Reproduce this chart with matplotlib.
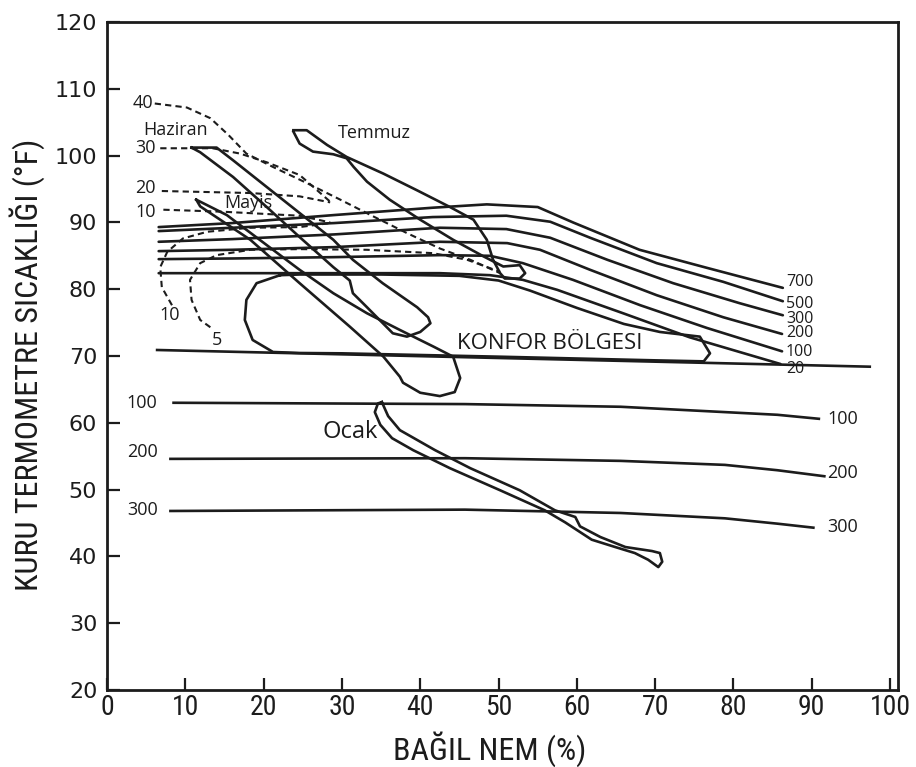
import matplotlib
matplotlib.use("Agg")
import matplotlib.pyplot as plt
from matplotlib import font_manager

# Comfort zone lower limit
comfort_x = [6.4, 97.4]
comfort_y = [70.9, 68.4]

# Wind lines above the comfort zone (labels on the right)
wind_labels = ["700", "500", "300", "200", "100", "20"]
wind_label_y = [81.1, 77.8, 75.6, 73.4, 70.6, 68.0]
wind_x_700 = [6.6, 16, 29, 41.6, 48.5, 55, 59.5, 68, 76.6, 86.3]
wind_y_700 = [89.3, 89.9, 91.1, 92.2, 92.7, 92.3, 90.0, 85.9, 83.2, 80.2]
wind_x_500 = [6.6, 16, 29, 41.6, 51, 56.6, 61.7, 70.2, 78.7, 86.3]
wind_y_500 = [88.7, 89.2, 89.9, 90.8, 91.0, 90.1, 87.7, 83.9, 81.1, 78.2]
wind_x_300 = [6.6, 16, 29, 42.5, 51, 56.6, 63.9, 72.3, 80.8, 86.3]
wind_y_300 = [87.1, 87.5, 88.2, 89.2, 89.0, 87.7, 84.4, 80.9, 77.9, 76.1]
wind_x_200 = [6.6, 16, 29, 42.5, 51.1, 55.3, 61.7, 70.2, 78.7, 86.2]
wind_y_200 = [85.7, 85.9, 86.3, 87.1, 86.9, 85.9, 82.9, 79.1, 75.8, 73.3]
wind_x_100 = [6.6, 16, 29, 42.5, 48.9, 53.1, 59.5, 68.1, 76.6, 86.2]
wind_y_100 = [84.5, 84.6, 84.8, 85.1, 85.0, 83.9, 81.4, 77.6, 74.2, 70.7]
wind_x_20 = [6.6, 16, 29, 42.5, 48.9, 53.1, 57.5, 65.9, 74.4, 86.0]
wind_y_20 = [82.4, 82.4, 82.4, 82.4, 82.1, 81.4, 79.9, 76.4, 72.8, 68.8]

# Radiation lines below the comfort zone
rad_labels = ["100", "200", "300"]
rad_label_left_y = [63.0, 55.6, 46.9]
rad_label_right_y = [60.5, 52.5, 44.4]
rad_x_100 = [8.5, 45.7, 65.6, 78.9, 85.6, 90.9]
rad_y_100 = [63.0, 62.8, 62.4, 61.6, 61.2, 60.6]
rad_x_200 = [8.1, 45.7, 65.6, 78.9, 85.6, 91.6]
rad_y_200 = [54.6, 54.7, 54.3, 53.7, 52.9, 52.0]
rad_x_300 = [8.1, 45.7, 65.6, 78.9, 85.6, 90.2]
rad_y_300 = [46.8, 47.0, 46.5, 45.7, 44.9, 44.3]

# Dashed moisture lines
dash_x_40 = [6.1, 10.2, 13.2, 15.5, 17.8, 21.2, 25.5, 29.8, 34.0, 38.3, 42.5, 46.4, 50.2]
dash_y_40 = [107.8, 107.2, 105.6, 103.1, 100.3, 98.3, 95.9, 93.4, 90.9, 88.4, 86.1, 84.4, 82.4]
dash_x_30 = [6.8, 13.5, 17.0, 20.4, 24.6, 28.5]
dash_y_30 = [101.1, 101.1, 100.3, 99.0, 97.1, 93.1]
dash_x_20 = [7.0, 18.3, 24.6, 28.5]
dash_y_20 = [94.7, 94.4, 93.9, 93.0]
dash_x_10 = [7.2, 14.8, 24.6, 28.5]
dash_y_10 = [91.9, 91.6, 91.0, 90.0]
dash_x_10b = [8.3, 7.0, 6.8, 7.7, 9.7, 12.8, 18.3, 24.6, 28.5]
dash_y_10b = [77.6, 80.3, 83.3, 85.6, 87.6, 88.6, 89.2, 89.3, 89.9]
dash_x_5 = [13.2, 11.9, 10.8, 10.6, 11.9, 14.0, 18.3, 24.6, 33.2, 41.6, 46.0, 50.2]
dash_y_5 = [74.3, 75.4, 78.4, 81.4, 83.9, 85.1, 85.9, 86.0, 85.9, 85.4, 84.4, 82.6]
dash_labels = ["40", "30", "20", "10", "10", "5"]
dash_label_x = [4.6, 4.9, 4.9, 4.9, 8.0, 14.0]
dash_label_y = [107.9, 101.1, 95.1, 91.6, 76.1, 72.4]

# Monthly loops
haziran_x = [10.8, 14.0, 16.1, 20.4, 24.6, 28.9, 31.4, 35.2, 39.6, 41.0, 41.3, 40.0,
             38.3, 36.5, 33.2, 31.4, 31.0, 28.9, 24.6, 20.4, 16.1, 11.9, 10.8]
haziran_y = [101.2, 101.2, 99.3, 95.3, 91.4, 87.4, 84.4, 80.9, 77.3, 75.8, 74.9, 73.6,
             72.9, 73.4, 77.3, 79.4, 81.3, 83.3, 87.8, 92.3, 96.8, 100.5, 101.2]
temmuz_x = [23.8, 25.5, 28.1, 30.6, 35.3, 39.6, 43.8, 46.8, 48.5, 49.3, 50.2, 50.8, 52.7, 53.4,
            52.7, 50.6, 48.1, 44.2, 40.0, 36.1, 33.2, 31.5, 30.6, 28.9, 26.3, 24.6, 23.8]
temmuz_y = [103.8, 103.8, 101.6, 99.8, 97.3, 94.8, 92.3, 90.4, 87.4, 84.4, 82.4, 81.6, 81.6, 82.4,
            83.6, 83.4, 84.9, 87.4, 90.4, 93.4, 96.1, 98.3, 99.6, 100.2, 100.6, 101.8, 103.6]
mayis_x = [11.4, 15.3, 20.4, 24.6, 28.9, 33.2, 37.4, 41.7, 44.2, 45.1, 44.4, 42.5, 40.0, 37.8,
           37.4, 35.3, 31.0, 24.6, 18.3, 11.9, 11.4]
mayis_y = [93.4, 91.1, 86.6, 82.9, 79.4, 76.4, 73.9, 71.4, 69.9, 66.7, 64.6, 64.0, 64.5, 66.0,
           66.9, 69.9, 74.4, 80.9, 87.4, 92.4, 93.4]
oval_x = [22.1, 24.6, 35, 45, 50, 54, 60, 66, 70.6, 75.7, 77.0, 76.2, 70, 50, 30, 24.6,
          21.2, 18.6, 17.6, 17.8, 19.1, 22.1]
oval_y = [82.1, 82.2, 82.2, 82.0, 81.3, 79.8, 77.2, 74.8, 73.6, 72.9, 70.4, 69.2, 69.35, 69.9, 70.4, 70.45,
          70.6, 72.4, 75.4, 78.4, 80.9, 82.1]
ocak_x = [35.1, 35.9, 37.4, 41.9, 46.4, 52.7, 57.2, 59.8, 60.4, 63.0, 66.2, 69.6, 70.6, 70.9, 70.4,
          69.1, 67.4, 64.9, 61.9, 58.5, 55.9, 50.2, 43.8, 39.1, 36.4, 34.9, 34.2, 34.6, 35.1]
ocak_y = [63.1, 61.0, 58.9, 55.9, 53.2, 49.9, 46.9, 45.9, 44.5, 42.9, 41.4, 40.8, 40.5, 39.2, 38.4,
          39.5, 40.5, 41.4, 42.5, 45.1, 46.9, 49.9, 53.2, 55.9, 57.7, 59.7, 61.6, 62.9, 63.1]

month_labels = ["Haziran", "Temmuz", "Mayis", "Ocak"]
month_label_x = [8.8, 34.2, 18.0, 31.0]
month_label_y = [103.8, 103.4, 92.9, 58.6]
month_label_size = [13, 13, 13, 17]

x_ticks = [0, 10, 20, 30, 40, 50, 60, 70, 80, 90, 100]
y_ticks = [20, 30, 40, 50, 60, 70, 80, 90, 100, 110, 120]

# pick a condensed face for the axis text if one is there
installed = {f.name for f in font_manager.fontManager.ttflist}
narrow = "Open Sans"
for cand in ["Liberation Sans Narrow", "Roboto Condensed", "Open Sans Condensed"]:
    if cand in installed:
        narrow = cand
        break
text_font = "Open Sans"
ink = "#1c1c1c"
lw = 1.9

fig = plt.figure(figsize=(9.16, 7.67), dpi=100)
ax = fig.add_axes([0.1168, 0.1004, 0.8635, 0.8709])

ax.plot(comfort_x, comfort_y, color=ink, lw=lw)

wind_lines = [(wind_x_700, wind_y_700), (wind_x_500, wind_y_500), (wind_x_300, wind_y_300),
              (wind_x_200, wind_y_200), (wind_x_100, wind_y_100), (wind_x_20, wind_y_20)]
for (xs, ys), lab, ly in zip(wind_lines, wind_labels, wind_label_y):
    ax.plot(xs, ys, color=ink, lw=lw, solid_capstyle="round")
    ax.text(86.7, ly, lab, fontsize=11.5, family=text_font, color=ink, ha="left", va="center")

rad_lines = [(rad_x_100, rad_y_100), (rad_x_200, rad_y_200), (rad_x_300, rad_y_300)]
for (xs, ys), lab, yl, yr in zip(rad_lines, rad_labels, rad_label_left_y, rad_label_right_y):
    ax.plot(xs, ys, color=ink, lw=lw)
    ax.text(4.5, yl, lab, fontsize=13, family=text_font, color=ink, ha="center", va="center")
    ax.text(92.0, yr, lab, fontsize=13, family=text_font, color=ink, ha="left", va="center")

dash_lines = [(dash_x_40, dash_y_40), (dash_x_30, dash_y_30), (dash_x_20, dash_y_20),
              (dash_x_10, dash_y_10), (dash_x_10b, dash_y_10b), (dash_x_5, dash_y_5)]
for xs, ys in dash_lines:
    ax.plot(xs, ys, color=ink, lw=1.5, ls=(0, (3, 2)))
for lab, lx, ly in zip(dash_labels, dash_label_x, dash_label_y):
    ax.text(lx, ly, lab, fontsize=13, family=text_font, color=ink, ha="center", va="center")

for xs, ys in [(haziran_x, haziran_y), (temmuz_x, temmuz_y), (mayis_x, mayis_y),
               (oval_x, oval_y), (ocak_x, ocak_y)]:
    ax.plot(xs, ys, color=ink, lw=lw, solid_joinstyle="round")

for lab, lx, ly, fs in zip(month_labels, month_label_x, month_label_y, month_label_size):
    ax.text(lx, ly, lab, fontsize=fs, family=text_font, color=ink, ha="center", va="center")

ax.text(44.7, 71.8, "KONFOR BÖLGESI", fontsize=16, family=text_font, color=ink,
        ha="left", va="center")

ax.set_xlim(0, 101)
ax.set_ylim(20, 120)
ax.set_xticks(x_ticks)
ax.set_yticks(y_ticks)
ax.set_xticklabels([str(t) for t in x_ticks], family=narrow, fontsize=20, color=ink)
ax.set_yticklabels([str(t) for t in y_ticks], family="DejaVu Sans", fontsize=16, color=ink)
ax.tick_params(axis="x", direction="in", length=9, width=1.6, pad=3, color=ink)
ax.tick_params(axis="y", direction="in", length=9, width=1.6, pad=7, color=ink)
for sp in ax.spines.values():
    sp.set_linewidth(2.0)
    sp.set_color(ink)

ax.set_xlabel("BAĞIL NEM (%)", family=narrow, fontsize=23, color=ink)
ax.set_ylabel("KURU TERMOMETRE SICAKLIĞI (°F)", family=narrow, fontsize=23, color=ink)
ax.xaxis.set_label_coords(0.484, -0.062)
ax.yaxis.set_label_coords(-0.078, 0.487)

fig.savefig("out.png", dpi=100)
